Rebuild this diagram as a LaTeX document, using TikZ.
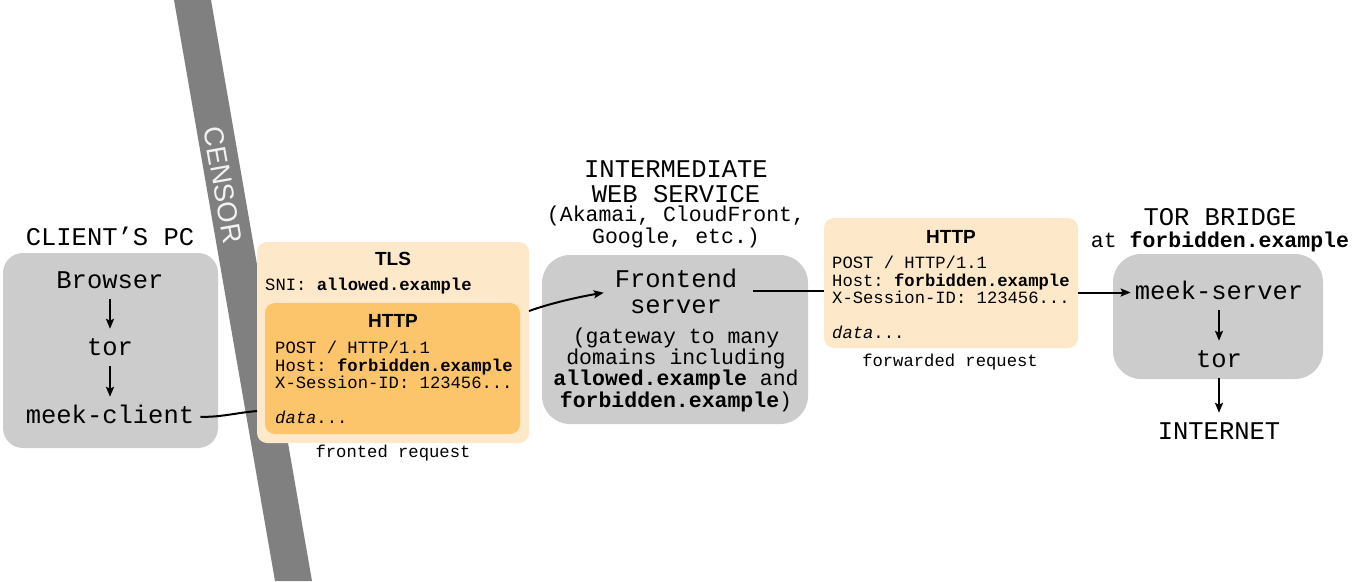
\documentclass[tikz,border=0pt]{standalone}
\usepackage{fontspec}
\setmainfont{Liberation Sans}
\setmonofont{Liberation Mono}
\usetikzlibrary{arrows.meta}
\definecolor{boxgray}{HTML}{CCCCCC}
\definecolor{censorgray}{HTML}{808080}
\definecolor{paleorange}{HTML}{FDE9C9}
\definecolor{deeporange}{HTML}{FCC46B}
\definecolor{censortext}{HTML}{F2F2F2}
\tikzset{
  graybox/.style={fill=boxgray, inner sep=0pt},
  palebox/.style={fill=paleorange, rounded corners=10pt, inner sep=0pt},
  deepbox/.style={fill=deeporange, rounded corners=10pt, inner sep=0pt},
  bigtxt/.style={font=\ttfamily\fontsize{25.5}{25}\selectfont, inner sep=0pt, text height=18pt, text depth=5pt, anchor=base},
  bighead/.style={font=\ttfamily\fontsize{25.5}{25}\selectfont, inner sep=0pt, align=center, anchor=base},
  midtxt/.style={font=\ttfamily\fontsize{21.5}{20.5}\selectfont, inner sep=0pt, align=center, anchor=base},
  smalltxt/.style={font=\ttfamily\fontsize{17.2}{17.3}\selectfont, inner sep=0pt, align=left, anchor=base west},
  captxt/.style={font=\ttfamily\fontsize{17.2}{17.3}\selectfont, inner sep=0pt, anchor=base},
  headtxt/.style={font=\bfseries\fontsize{19}{20}\selectfont, inner sep=0pt, anchor=base},
  arr/.style={-{Stealth[length=10pt,width=8pt,inset=2pt]}, line width=2pt},
  conn/.style={line width=2pt},
  inarr/.style={arr, shorten <=6pt, shorten >=8pt},
}
\begin{document}
\begin{tikzpicture}[x=1pt, y=-1pt]
\useasboundingbox (0,0) rectangle (1357,581);
% censor band
\fill[censorgray] (174,0) -- (211,0) -- (312,581) -- (275,581) -- cycle;
\node[font=\fontsize{27.5}{28}\selectfont, text=censortext, rotate=-80, inner sep=0pt] (censor) at (223,185) {CENSOR};

% boxes
\node[graybox, rounded corners=20pt, minimum width=215pt, minimum height=195pt] (client) at (110.5,350.5) {};
\node[palebox, minimum width=272pt, minimum height=201pt] (tls) at (393,342.5) {};
\node[deepbox, minimum width=255pt, minimum height=131pt] (http) at (392.5,368.5) {};
\node[graybox, rounded corners=28pt, minimum width=266pt, minimum height=169pt] (front) at (675,339.5) {};
\node[palebox, minimum width=254pt, minimum height=130pt] (fwd) at (951,283) {};
\node[graybox, rounded corners=28pt, minimum width=210pt, minimum height=125pt] (bridge) at (1218,316.5) {};

% client
\node[bighead] (clientlbl) at (110,245) {CLIENT’S PC};
\node[bigtxt] (browser) at (110,288) {Browser};
\node[bigtxt] (tor1) at (110,355) {tor};
\node[bigtxt] (mc) at (110,423) {meek-client};
\draw[inarr] (browser.south) -- (tor1.north);
\draw[inarr] (tor1.south) -- (mc.north);

% TLS request
\node[headtxt] (tlslbl) at (393,265) {TLS};
\node[smalltxt] (sni) at (265,290) {SNI: \textbf{allowed.example}};
\node[headtxt] (httplbl) at (393,327) {HTTP};
\node[smalltxt] (req1) at (275,423) {POST / HTTP/1.1\\Host: \textbf{forbidden.example}\\X-Session-ID: 123456...\\[17.3pt]\textit{data}...};
\node[captxt] (fronted) at (393,457) {fronted request};

% intermediate
\node[bighead] (interlbl) at (676,202) {INTERMEDIATE\\WEB SERVICE};
\node[midtxt, font=\ttfamily\fontsize{21.5}{19.5}\selectfont] (cdns) at (676,243) {(Akamai, CloudFront,\\Google, etc.)};
\node[bighead, font=\ttfamily\fontsize{25.5}{26}\selectfont] (fs) at (676,313) {Frontend\\server};
\node[midtxt, font=\ttfamily\fontsize{21.5}{21.3}\selectfont] (gw) at (676,407) {(gateway to many\\domains including\\\textbf{allowed.example} and\\\textbf{forbidden.example})};

% forwarded request
\node[headtxt] (fwdlbl) at (951,243) {HTTP};
\node[smalltxt] (req2) at (832,338) {POST / HTTP/1.1\\Host: \textbf{forbidden.example}\\X-Session-ID: 123456...\\[17.3pt]\textit{data}...};
\node[captxt] (forwarded) at (950,366) {forwarded request};

% bridge
\node[bighead] (bridgelbl) at (1220,225) {TOR BRIDGE};
\node[midtxt] (bridgeat) at (1220,247) {at \textbf{forbidden.example}};
\node[bigtxt] (ms) at (1219,299) {meek-server};
\node[bigtxt] (tor2) at (1219,367) {tor};
\node[bigtxt] (inet) at (1219,439) {INTERNET};
\draw[inarr] (ms.south) -- (tor2.north);
\draw[inarr] (tor2.south) -- (inet.north);

% connectors
\coordinate (tlsin) at (257,411);
\coordinate (tlsout) at (529,311);
\draw[conn, shorten <=6pt] (mc.east) .. controls +(25,1) and +(-22,2) .. (tlsin);
\draw[arr, shorten >=11pt] (tlsout) .. controls +(25,-9) and +(-30,5) .. (fs.west);
\draw[conn, shorten <=16pt] (fs.east) -- (fs.east -| fwd.west);
\draw[arr, shorten >=4pt] (ms.west -| fwd.east) -- (ms.west);
\end{tikzpicture}
\end{document}
